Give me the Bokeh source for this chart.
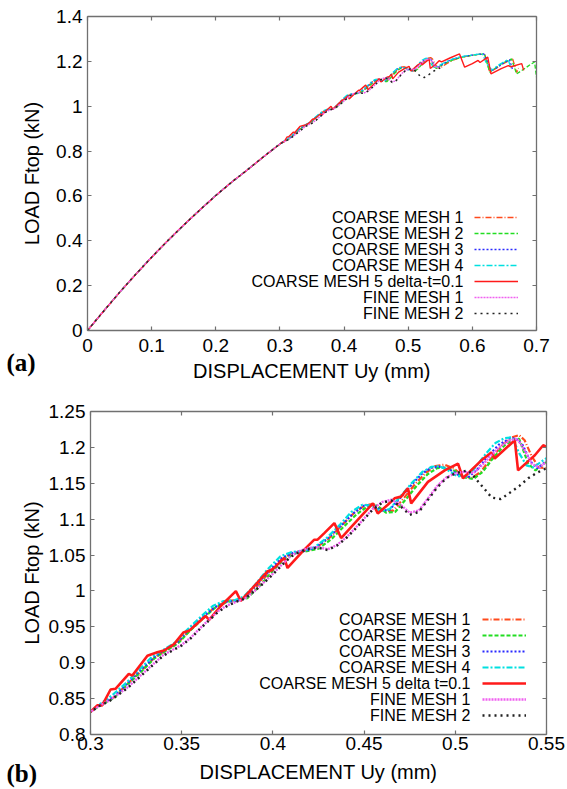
from bokeh.plotting import figure
from bokeh.models import (LinearAxis, FixedTicker, Range1d, Legend, LegendItem, Label)
from bokeh.layouts import column
from bokeh.core.properties import value
from bokeh.embed import file_html
from bokeh.resources import INLINE

# ---------------- data ----------------
base_x = [0.0, 0.025, 0.05, 0.075, 0.1, 0.125, 0.15, 0.175, 0.2, 0.225, 0.25, 0.275]
base_y = [0.0, 0.086, 0.17, 0.25, 0.327, 0.4, 0.47, 0.537, 0.602, 0.662, 0.718, 0.776]

c1_x = base_x + [0.3, 0.305, 0.313, 0.32, 0.328, 0.335, 0.341, 0.348, 0.354, 0.361, 0.368, 0.375, 0.38, 0.385, 0.391, 0.399, 0.406, 0.412, 0.419, 0.424, 0.431, 0.438, 0.445, 0.451, 0.456, 0.461, 0.466, 0.472, 0.478, 0.484, 0.489, 0.494, 0.499, 0.504, 0.509, 0.514, 0.52, 0.526, 0.531, 0.535, 0.538, 0.542, 0.546, 0.55, 0.56, 0.57, 0.58, 0.59, 0.6, 0.61, 0.619, 0.627, 0.635, 0.645, 0.655, 0.663, 0.669, 0.672]
c1_y = base_y + [0.8315, 0.841, 0.852, 0.87, 0.889, 0.907, 0.917, 0.928, 0.944, 0.961, 0.977, 0.986, 0.987, 0.991, 1.006, 1.029, 1.047, 1.054, 1.057, 1.061, 1.074, 1.092, 1.11, 1.12, 1.121, 1.111, 1.112, 1.13, 1.149, 1.165, 1.174, 1.176, 1.171, 1.161, 1.157, 1.166, 1.186, 1.204, 1.214, 1.217, 1.21, 1.187, 1.172, 1.171, 1.19, 1.205, 1.216, 1.222, 1.227, 1.231, 1.234, 1.152, 1.165, 1.185, 1.2, 1.21, 1.15, 1.17]

c2_x = base_x + [0.3, 0.305, 0.313, 0.32, 0.328, 0.335, 0.341, 0.348, 0.354, 0.361, 0.368, 0.375, 0.38, 0.386, 0.392, 0.4, 0.407, 0.413, 0.42, 0.425, 0.432, 0.439, 0.446, 0.452, 0.457, 0.462, 0.467, 0.473, 0.479, 0.485, 0.49, 0.495, 0.5, 0.505, 0.51, 0.515, 0.521, 0.527, 0.532, 0.535, 0.54, 0.544, 0.55, 0.56, 0.57, 0.58, 0.59, 0.6, 0.61, 0.619, 0.627, 0.635, 0.645, 0.655, 0.661, 0.669, 0.68, 0.69, 0.697, 0.7]
c2_y = base_y + [0.8315, 0.84, 0.851, 0.869, 0.888, 0.906, 0.916, 0.927, 0.943, 0.96, 0.976, 0.985, 0.986, 0.99, 1.005, 1.028, 1.046, 1.053, 1.056, 1.059, 1.072, 1.09, 1.107, 1.118, 1.119, 1.109, 1.11, 1.128, 1.147, 1.163, 1.171, 1.172, 1.167, 1.158, 1.156, 1.166, 1.186, 1.203, 1.211, 1.212, 1.177, 1.168, 1.18, 1.195, 1.207, 1.216, 1.222, 1.227, 1.231, 1.233, 1.152, 1.168, 1.188, 1.203, 1.211, 1.144, 1.165, 1.185, 1.197, 1.13]

c3_x = base_x + [0.3, 0.305, 0.313, 0.32, 0.3275, 0.335, 0.34, 0.3475, 0.353, 0.36, 0.368, 0.374, 0.379, 0.384, 0.39, 0.398, 0.405, 0.411, 0.418, 0.423, 0.43, 0.437, 0.444, 0.45, 0.455, 0.459, 0.464, 0.47, 0.476, 0.482, 0.487, 0.492, 0.497, 0.502, 0.507, 0.512, 0.518, 0.524, 0.529, 0.533, 0.537, 0.541, 0.545, 0.55, 0.56, 0.57, 0.58, 0.59, 0.6, 0.61, 0.618, 0.624, 0.63, 0.64, 0.65, 0.658, 0.663]
c3_y = base_y + [0.8315, 0.8415, 0.853, 0.871, 0.89, 0.908, 0.917, 0.928, 0.944, 0.961, 0.977, 0.985, 0.986, 0.99, 1.006, 1.028, 1.046, 1.053, 1.056, 1.06, 1.073, 1.09, 1.108, 1.119, 1.12, 1.112, 1.113, 1.13, 1.148, 1.164, 1.172, 1.173, 1.169, 1.161, 1.158, 1.169, 1.188, 1.204, 1.211, 1.213, 1.203, 1.181, 1.171, 1.181, 1.198, 1.21, 1.218, 1.224, 1.228, 1.232, 1.233, 1.2, 1.158, 1.175, 1.195, 1.207, 1.16]

c4_x = base_x + [0.3, 0.305, 0.312, 0.32, 0.327, 0.334, 0.34, 0.347, 0.353, 0.36, 0.367, 0.373, 0.379, 0.384, 0.39, 0.397, 0.404, 0.41, 0.417, 0.423, 0.43, 0.437, 0.443, 0.449, 0.454, 0.459, 0.464, 0.47, 0.476, 0.482, 0.487, 0.491, 0.496, 0.501, 0.506, 0.511, 0.517, 0.522, 0.527, 0.531, 0.535, 0.539, 0.543, 0.547, 0.55, 0.56, 0.57, 0.58, 0.59, 0.6, 0.61, 0.616, 0.622, 0.63, 0.64, 0.65, 0.656, 0.66]
c4_y = base_y + [0.832, 0.842, 0.855, 0.873, 0.891, 0.909, 0.918, 0.929, 0.946, 0.963, 0.979, 0.986, 0.987, 0.992, 1.008, 1.03, 1.048, 1.054, 1.056, 1.061, 1.075, 1.093, 1.11, 1.12, 1.119, 1.111, 1.114, 1.132, 1.15, 1.166, 1.173, 1.174, 1.168, 1.16, 1.159, 1.172, 1.192, 1.206, 1.213, 1.214, 1.192, 1.175, 1.172, 1.18, 1.185, 1.2, 1.211, 1.219, 1.224, 1.228, 1.232, 1.232, 1.19, 1.16, 1.182, 1.2, 1.208, 1.17]

c5_x = base_x + [0.3, 0.3037, 0.3064, 0.311, 0.3137, 0.321, 0.3229, 0.3312, 0.3366, 0.3403, 0.3458, 0.3509, 0.354, 0.3632, 0.365, 0.3714, 0.3797, 0.3824, 0.3971, 0.3995, 0.4062, 0.408, 0.4172, 0.4227, 0.4245, 0.4282, 0.4337, 0.4374, 0.4465, 0.4548, 0.4575, 0.463, 0.4667, 0.4703, 0.474, 0.4758, 0.485, 0.4942, 0.5015, 0.5042, 0.5143, 0.5198, 0.5216, 0.5326, 0.5344, 0.5436, 0.5482, 0.552, 0.565, 0.58, 0.588, 0.6, 0.609, 0.612, 0.624, 0.629, 0.645, 0.656, 0.66, 0.677, 0.68]
c5_y = base_y + [0.8315, 0.8406, 0.8406, 0.8627, 0.8637, 0.8845, 0.882, 0.9098, 0.9145, 0.917, 0.926, 0.942, 0.9444, 0.965, 0.9597, 0.979, 0.9998, 0.986, 1.0275, 1.029, 1.046, 1.032, 1.0575, 1.0714, 1.0714, 1.0806, 1.0945, 1.0737, 1.099, 1.122, 1.108, 1.12, 1.129, 1.1314, 1.143, 1.122, 1.152, 1.168, 1.1775, 1.157, 1.182, 1.193, 1.1845, 1.21, 1.168, 1.189, 1.203, 1.198, 1.215, 1.233, 1.174, 1.19, 1.204, 1.195, 1.219, 1.144, 1.168, 1.181, 1.176, 1.19, 1.16]

f1_x = base_x + [0.3, 0.305, 0.31, 0.32, 0.33, 0.34, 0.345, 0.35, 0.355, 0.36, 0.365, 0.37, 0.375, 0.38, 0.385, 0.39, 0.395, 0.4, 0.405, 0.41, 0.415, 0.42, 0.425, 0.43, 0.435, 0.44, 0.445, 0.45, 0.455, 0.46, 0.465, 0.47, 0.475, 0.48, 0.485, 0.49, 0.495, 0.5, 0.505, 0.51, 0.515, 0.52, 0.525, 0.53, 0.534, 0.538, 0.542, 0.546, 0.55]
f1_y = base_y + [0.8315, 0.84, 0.847, 0.865, 0.888, 0.911, 0.918, 0.925, 0.935, 0.948, 0.96, 0.972, 0.98, 0.985, 0.99, 1.0, 1.012, 1.024, 1.037, 1.049, 1.056, 1.06, 1.061, 1.058, 1.064, 1.074, 1.087, 1.101, 1.115, 1.124, 1.127, 1.12, 1.109, 1.112, 1.129, 1.146, 1.158, 1.164, 1.166, 1.164, 1.176, 1.19, 1.202, 1.21, 1.212, 1.196, 1.177, 1.172, 1.18]

f2_x = base_x + [0.3, 0.305, 0.31, 0.32, 0.33, 0.34, 0.345, 0.35, 0.355, 0.36, 0.365, 0.37, 0.375, 0.38, 0.385, 0.39, 0.395, 0.4, 0.405, 0.41, 0.415, 0.42, 0.425, 0.43, 0.435, 0.44, 0.445, 0.45, 0.455, 0.46, 0.465, 0.47, 0.475, 0.48, 0.485, 0.49, 0.495, 0.5, 0.507, 0.51, 0.515, 0.52, 0.525, 0.53, 0.535, 0.54, 0.545, 0.55]
f2_y = base_y + [0.8315, 0.84, 0.846, 0.864, 0.887, 0.91, 0.917, 0.924, 0.934, 0.947, 0.959, 0.971, 0.979, 0.985, 0.99, 1.0, 1.011, 1.023, 1.036, 1.048, 1.055, 1.059, 1.06, 1.057, 1.063, 1.073, 1.086, 1.1, 1.114, 1.123, 1.126, 1.118, 1.106, 1.11, 1.127, 1.144, 1.157, 1.164, 1.168, 1.16, 1.145, 1.13, 1.128, 1.137, 1.146, 1.157, 1.165, 1.171]

series_names = ["COARSE MESH 1", "COARSE MESH 2", "COARSE MESH 3", "COARSE MESH 4",
                "COARSE MESH 5 delta-t=0.1", "FINE MESH 1", "FINE MESH 2"]
series_names_b = ["COARSE MESH 1", "COARSE MESH 2", "COARSE MESH 3", "COARSE MESH 4",
                  "COARSE MESH 5 delta t=0.1", "FINE MESH 1", "FINE MESH 2"]
series_x = [c1_x, c2_x, c3_x, c4_x, c5_x, f1_x, f2_x]
series_y = [c1_y, c2_y, c3_y, c4_y, c5_y, f1_y, f2_y]

xa_ticks = [0, 0.1, 0.2, 0.3, 0.4, 0.5, 0.6, 0.7]
xa_labels = ["0", "0.1", "0.2", "0.3", "0.4", "0.5", "0.6", "0.7"]
ya_ticks = [0, 0.2, 0.4, 0.6, 0.8, 1.0, 1.2, 1.4]
ya_labels = ["0", "0.2", "0.4", "0.6", "0.8", "1", "1.2", "1.4"]
xb_ticks = [0.3, 0.35, 0.4, 0.45, 0.5, 0.55]
xb_labels = ["0.3", "0.35", "0.4", "0.45", "0.5", "0.55"]
yb_ticks = [0.8, 0.85, 0.9, 0.95, 1.0, 1.05, 1.1, 1.15, 1.2, 1.25]
yb_labels = ["0.8", "0.85", "0.9", "0.95", "1", "1.05", "1.1", "1.15", "1.2", "1.25"]
panel_tags = ["(a)", "(b)"]

for sx, sy in zip(series_x, series_y):
    assert len(sx) == len(sy), (len(sx), len(sy))

# ---------------- styles ----------------
colors = ["#ff4a1c", "#22dd22", "#2a2aff", "#00e0e0", "#ff1a1a", "#f060f0", "#222222"]
dashes = ["6 2 1 2", "4 2", "2 2", "6 2 2 2", "solid", "2 1", "2 4"]
AXC = "#707070"
FONT = "Liberation Sans"
PAGE_W, PAGE_H = 567, 789


def make_panel(width, height, xr, yr, borders, xt, xl, yt, yl, names, widths,
               leg_x, leg_y, lab_x, tick_standoff, title_standoff):
    bl, br, bt, bb = borders
    p = figure(width=width, height=height, x_range=Range1d(*xr), y_range=Range1d(*yr),
               output_backend="svg", toolbar_location=None,
               min_border_left=bl, min_border_right=br, min_border_top=bt, min_border_bottom=bb,
               x_axis_label="DISPLACEMENT Uy (mm)", y_axis_label="LOAD Ftop (kN)")
    p.outline_line_color = None
    p.xgrid.grid_line_color = None
    p.ygrid.grid_line_color = None
    p.background_fill_color = "white"
    p.border_fill_color = "white"

    for ax, ticks, labels in [(p.below[0], xt, xl), (p.left[0], yt, yl)]:
        ax.ticker = FixedTicker(ticks=ticks)
        ax.major_label_overrides = {t: l for t, l in zip(ticks, labels)}
        ax.axis_line_color = AXC
        ax.axis_line_width = 1.3
        ax.major_tick_line_color = AXC
        ax.major_tick_line_width = 1.2
        ax.major_tick_in = 4
        ax.major_tick_out = 0
        ax.minor_tick_line_color = None
        ax.major_label_text_font = FONT
        ax.major_label_text_font_size = "19px"
        ax.major_label_text_color = "black"
        ax.axis_label_text_font = FONT
        ax.axis_label_text_font_size = "20px"
        ax.axis_label_text_font_style = "normal"
        ax.axis_label_text_color = "black"
    p.below[0].major_label_standoff = tick_standoff[0]
    p.left[0].major_label_standoff = tick_standoff[1]
    p.below[0].axis_label_standoff = title_standoff[0]
    p.left[0].axis_label_standoff = title_standoff[1]

    for loc, ticks in [("above", xt), ("right", yt)]:
        ax = LinearAxis(ticker=FixedTicker(ticks=ticks))
        ax.major_label_overrides = {t: "" for t in ticks}
        ax.axis_line_color = AXC
        ax.axis_line_width = 1.3
        ax.major_tick_line_color = AXC
        ax.major_tick_line_width = 1.2
        ax.major_tick_in = 4
        ax.major_tick_out = 0
        ax.minor_tick_line_color = None
        ax.major_label_standoff = 0
        p.add_layout(ax, loc)

    rs = []
    for sx, sy, c, d, w in zip(series_x, series_y, colors, dashes, widths):
        r = p.line(sx, sy, line_color=c, line_dash=d, line_width=w)
        rs.append(r)

    leg = Legend(items=[LegendItem(label=value(""), renderers=[r]) for r in rs],
                 location=(leg_x, leg_y), padding=0, margin=0, spacing=0,
                 glyph_width=44, glyph_height=16, label_height=16, label_width=0,
                 label_standoff=0, label_text_font_size="10px",
                 border_line_alpha=0, background_fill_alpha=0)
    p.add_layout(leg)

    for i, nm in enumerate(names):
        p.add_layout(Label(x=lab_x, y=leg_y + 8 + 16 * (len(names) - 1 - i),
                           x_units="screen", y_units="screen", text=nm,
                           text_align="right", text_baseline="middle",
                           text_font=FONT, text_font_size="16px", text_color="black"))
    return p


pa = make_panel(PAGE_W, 398, (0, 0.7), (0, 1.4), (87, 31, 16, 68),
                xa_ticks, xa_labels, ya_ticks, ya_labels, series_names,
                [1.3, 1.3, 1.3, 1.3, 1.4, 1.5, 1.5],
                387, 9, 376, (8, 5), (5, 10))

pb = make_panel(PAGE_W, 391, (0.3, 0.55), (0.8, 1.25), (90, 21, 13, 55),
                xb_ticks, xb_labels, yb_ticks, yb_labels, series_names_b,
                [2.2, 2.2, 2.2, 2.2, 2.6, 2.4, 2.4],
                392, 11, 380, (2, 5), (8, 3))

# transparent overlay figure (its frame is the whole page) carrying the panel tags
ov = figure(width=PAGE_W, height=PAGE_H, x_range=Range1d(0, 1), y_range=Range1d(0, 1),
            output_backend="svg", toolbar_location=None, min_border=0,
            x_axis_type=None, y_axis_type=None)
ov.outline_line_color = None
ov.background_fill_alpha = 0
ov.border_fill_alpha = 0
ov.xgrid.grid_line_color = None
ov.ygrid.grid_line_color = None
for tag, ty in zip(panel_tags, [PAGE_H - 362, PAGE_H - 773]):
    ov.add_layout(Label(x=6, y=ty, x_units="screen", y_units="screen", text=tag,
                        text_align="left", text_baseline="middle",
                        text_font="Liberation Serif", text_font_style="bold",
                        text_font_size="25px", text_color="black"))

# each figure in its own box so that their frames are not aligned to one another
box_a = column(pa)
box_b = column(pb)
box_ov = column(ov)
box_ov.margin = (-PAGE_H, 0, 0, 0)

layout = column(box_a, box_b, box_ov, spacing=0)
open("out.html", "w").write(file_html(layout, INLINE))
